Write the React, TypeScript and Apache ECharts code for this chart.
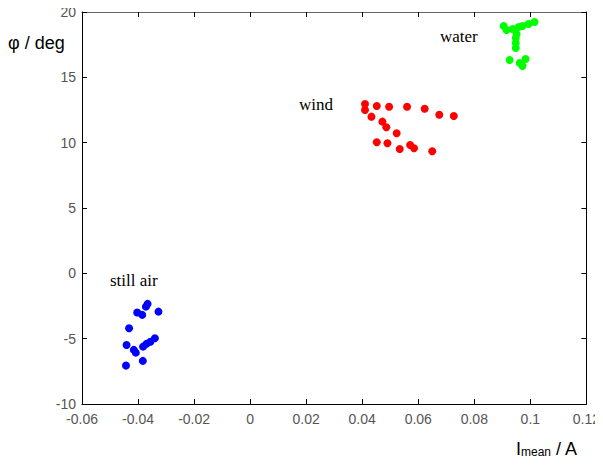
import React, { useEffect, useRef } from "react";
import * as echarts from "echarts";

// Mean current (A) and phase angle (deg) for each measurement condition
const stillAirCurrent = [-0.0366, -0.0372, -0.0403, -0.0385, -0.0327, -0.0432, -0.0441, -0.0415, -0.0408, -0.0382, -0.037, -0.0356, -0.034, -0.0383, -0.0443];
const stillAirPhase = [-2.34, -2.55, -3.0, -3.18, -2.93, -4.2, -5.48, -5.86, -6.07, -5.61, -5.4, -5.23, -4.97, -6.7, -7.06];

const windCurrent = [0.041, 0.041, 0.0452, 0.0496, 0.056, 0.0623, 0.0675, 0.0727, 0.0433, 0.0472, 0.0486, 0.0523, 0.0452, 0.049, 0.0534, 0.0571, 0.0585, 0.065];
const windPhase = [12.96, 12.5, 12.81, 12.75, 12.75, 12.6, 12.14, 12.04, 11.99, 11.61, 11.18, 10.72, 10.03, 9.95, 9.52, 9.82, 9.57, 9.34];

const waterCurrent = [0.0905, 0.0915, 0.0937, 0.0958, 0.0972, 0.0994, 0.1015, 0.0951, 0.0948, 0.0948, 0.0948, 0.0926, 0.0962, 0.0983, 0.0972];
const waterPhase = [18.93, 18.62, 18.7, 18.85, 18.93, 19.08, 19.23, 18.32, 18.01, 17.63, 17.25, 16.33, 16.1, 16.4, 15.87];

const xTicks = { min: -0.06, max: 0.12, interval: 0.02 };
const yTicks = { min: -10, max: 20, interval: 5 };

const groupNames = ["still air", "wind", "water"];
const groupColors = ["#0000ff", "#ff0000", "#00ff00"];

const pairs = (xs: number[], ys: number[]) => xs.map((x, i) => [x, ys[i]]);

const formatTick = (v: number) => String(Math.round(v * 100) / 100);

export default function App() {
  const ref = useRef<HTMLDivElement>(null);

  useEffect(() => {
    if (!ref.current) return;
    const chart = echarts.init(ref.current, undefined, { renderer: "svg" });

    const tickLabel = {
      color: "#555555",
      fontFamily: "Liberation Sans, Arial, sans-serif",
      fontSize: 14,
    };
    const axisLine = { show: true, onZero: false, lineStyle: { color: "#000000", width: 1 } };
    const axisTick = { show: true, inside: true, length: 5, lineStyle: { color: "#000000" } };

    const data = [
      pairs(stillAirCurrent, stillAirPhase),
      pairs(windCurrent, windPhase),
      pairs(waterCurrent, waterPhase),
    ];

    chart.setOption({
      animation: false,
      backgroundColor: "#ffffff",
      grid: { left: 82, right: 15, top: 12, bottom: 62 },
      xAxis: [
        {
          type: "value",
          position: "bottom",
          min: xTicks.min,
          max: xTicks.max,
          interval: xTicks.interval,
          axisLine,
          axisTick,
          splitLine: { show: false },
          axisLabel: { ...tickLabel, margin: 8, formatter: formatTick },
        },
        {
          type: "value",
          position: "top",
          min: xTicks.min,
          max: xTicks.max,
          interval: xTicks.interval,
          axisLine: { show: true, onZero: false, lineStyle: { color: "#666666", width: 1 } },
          axisTick,
          splitLine: { show: false },
          axisLabel: { show: false },
        },
      ],
      yAxis: [
        {
          type: "value",
          position: "left",
          min: yTicks.min,
          max: yTicks.max,
          interval: yTicks.interval,
          axisLine,
          axisTick,
          splitLine: { show: false },
          axisLabel: { ...tickLabel, margin: 6 },
        },
        {
          type: "value",
          position: "right",
          min: yTicks.min,
          max: yTicks.max,
          interval: yTicks.interval,
          axisLine,
          axisTick,
          splitLine: { show: false },
          axisLabel: { show: false },
        },
      ],
      series: groupNames.map((name, i) => ({
        name,
        type: "scatter",
        xAxisIndex: 0,
        yAxisIndex: 0,
        symbol: "circle",
        symbolSize: 8,
        itemStyle: { color: groupColors[i], opacity: 1 },
        data: data[i],
      })),
      graphic: [
        {
          type: "text",
          x: 110,
          y: 272,
          style: { text: "still air", font: "17px 'Liberation Serif', 'Times New Roman', serif", fill: "#000" },
        },
        {
          type: "text",
          x: 299,
          y: 96,
          style: { text: "wind", font: "17px 'Liberation Serif', 'Times New Roman', serif", fill: "#000" },
        },
        {
          type: "text",
          x: 440,
          y: 28,
          style: { text: "water", font: "17px 'Liberation Serif', 'Times New Roman', serif", fill: "#000" },
        },
        {
          type: "text",
          x: 8,
          y: 34,
          style: { text: "φ / deg", font: "18px 'Liberation Sans', Arial, sans-serif", fill: "#000" },
        },
        {
          type: "text",
          x: 516,
          y: 440,
          style: {
            text: "{a|I}{b|mean}{a| / A}",
            rich: {
              a: { fontFamily: "Liberation Sans, Arial, sans-serif", fontSize: 18, fill: "#000", verticalAlign: "bottom" },
              b: { fontFamily: "Liberation Sans, Arial, sans-serif", fontSize: 12, fill: "#000", padding: [6, 0, 0, 0], verticalAlign: "bottom" },
            },
          },
        },
      ],
    });

    return () => chart.dispose();
  }, []);

  return <div ref={ref} style={{ width: 603, height: 466, margin: -8 }} />;
}
